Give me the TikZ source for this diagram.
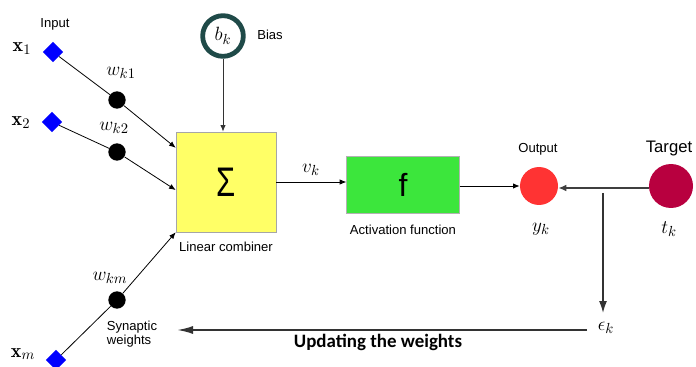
\documentclass[tikz,border=0pt]{standalone}
\usepackage{amsmath,amssymb,bm}
\usepackage{fontspec}
\usetikzlibrary{arrows.meta,positioning,calc,shapes.geometric}
\newfontfamily\arialfont{Liberation Sans}
\newfontfamily\calibrifont{Carlito}
\definecolor{NeuBlue}{HTML}{0000FF}
\definecolor{SumYellow}{HTML}{FFFF66}
\definecolor{ActGreen}{HTML}{3CE63C}
\definecolor{OutRed}{HTML}{FF3333}
\definecolor{TargetRed}{HTML}{B8003F}
\definecolor{BiasTeal}{HTML}{1F4A48}
\definecolor{LineGray}{HTML}{7F7F7F}

\begin{document}
\begin{tikzpicture}[x=0.75pt,y=-0.75pt,>=Latex,
  inputnode/.style={diamond,fill=NeuBlue,inner sep=0pt,minimum size=15.5pt},
  weightdot/.style={circle,fill=black,inner sep=0pt,minimum size=13pt},
  lbl/.style={font=\arialfont\fontsize{9.8}{11}\selectfont,inner sep=0pt},
  mathlbl/.style={font=\fontsize{15}{17}\selectfont,inner sep=0pt},
  wire/.style={->,line width=0.6pt,>={Latex[length=5pt,width=4pt]}},
  grayline/.style={LineGray,line width=1.4pt}]
  \useasboundingbox (0,0) rectangle (696,367);

  % inputs and synaptic weights
  \node[inputnode] (in1) at (53,52) {};
  \node[inputnode] (in2) at (52,122) {};
  \node[inputnode] (inm) at (56,360) {};
  \node[weightdot] (w1) at (117,100) {};
  \node[weightdot] (w2) at (117,152) {};
  \node[weightdot] (wm) at (117,300) {};
  \node[lbl] (inlbl) at (55,24) {Input};
  \node[mathlbl] (x1) at (22,49) {$\mathbf{x}_1$};
  \node[mathlbl] (x2) at (21,123) {$\mathbf{x}_2$};
  \node[mathlbl] (xm) at (23,354) {$\mathbf{x}_m$};
  \node[mathlbl] (wk1) at (121,73) {$w_{k1}$};
  \node[mathlbl] (wk2) at (114,128) {$w_{k2}$};
  \node[mathlbl] (wkm) at (110,278) {$w_{km}$};
  \node[lbl,align=left] (synlbl) at (132,334) {Synaptic\\weights};

  % summing junction and bias
  \node[draw=gray!70,fill=SumYellow,minimum size=75pt,inner sep=0pt,
        font=\arialfont\fontsize{31}{33}\selectfont] (sum) at (226,182) {\scalebox{0.75}[1]{Σ}};
  \node[circle,draw=BiasTeal,line width=3.6pt,minimum size=30.5pt,inner sep=0pt,
        font=\fontsize{15}{17}\selectfont] (bias) at (223,36) {$b_k$};
  \node[lbl] (biaslbl) at (270,35) {Bias};
  \node[lbl] (sumlbl) at (226,247) {Linear combiner};

  \draw[line width=0.6pt] (in1) -- (w1);
  \draw[wire] (w1) -- ($(sum.north west)!0.16!(sum.south west)$);
  \draw[line width=0.6pt] (in2) -- (w2);
  \draw[wire] (w2) -- ($(sum.north west)!0.58!(sum.south west)$);
  \draw[line width=0.6pt] (inm) -- (wm);
  \draw[wire] (wm) -- (sum.south west);
  \draw[wire,black!80] (bias.south) -- (bias.south |- sum.north);

  % activation and output
  \node[draw=gray!60,fill=ActGreen,minimum width=84.5pt,minimum height=42.5pt,
        inner sep=0pt,font=\arialfont\fontsize{24}{26}\selectfont] (act) at (403,185) {f};
  \node[lbl] (actlbl) at (403,230) {Activation function};
  \node[mathlbl] (vk) at (311,170) {$v_k$};
  \draw[wire] (sum.east) -- (sum.east -| act.west);

  \node[circle,fill=OutRed,minimum size=28.5pt,inner sep=0pt] (out) at (539,186) {};
  \node[lbl] (outlbl) at (538,149) {Output};
  \node[mathlbl] (yk) at (541,229) {$y_k$};
  \draw[wire] (act.east |- out.west) -- (out.west);

  \node[circle,fill=TargetRed,minimum size=33pt,inner sep=0pt] (target) at (671,186) {};
  \node[font=\arialfont\fontsize{12.5}{14}\selectfont,inner sep=0pt] (tgtlbl) at (669,148) {Target};
  \node[mathlbl] (tk) at (669,229) {$t_k$};
  \draw[grayline,->,>={Latex[length=6pt,width=5pt]},black!50!LineGray]
    ([yshift=-1.5pt]target.west) -- ([yshift=-1.5pt]out.east);

  % error signal and weight update
  \coordinate (split) at (603,193);
  \node[mathlbl] (err) at (606,328) {$\epsilon_k$};
  \draw[LineGray,line width=1.1pt,->,>={Latex[length=9pt,width=6pt]},black!60!LineGray]
    (split) -- (603,313);
  \coordinate (upd) at (177,330);
  \draw[grayline,->,>={Latex[length=12pt,width=6pt]},black!60!LineGray]
    (587,330) -- (upd);
  \node[font=\calibrifont\bfseries\fontsize{14.2}{16}\selectfont,inner sep=0pt] (updlbl)
    at (378,342) {Updating the weights};
\end{tikzpicture}
\end{document}
